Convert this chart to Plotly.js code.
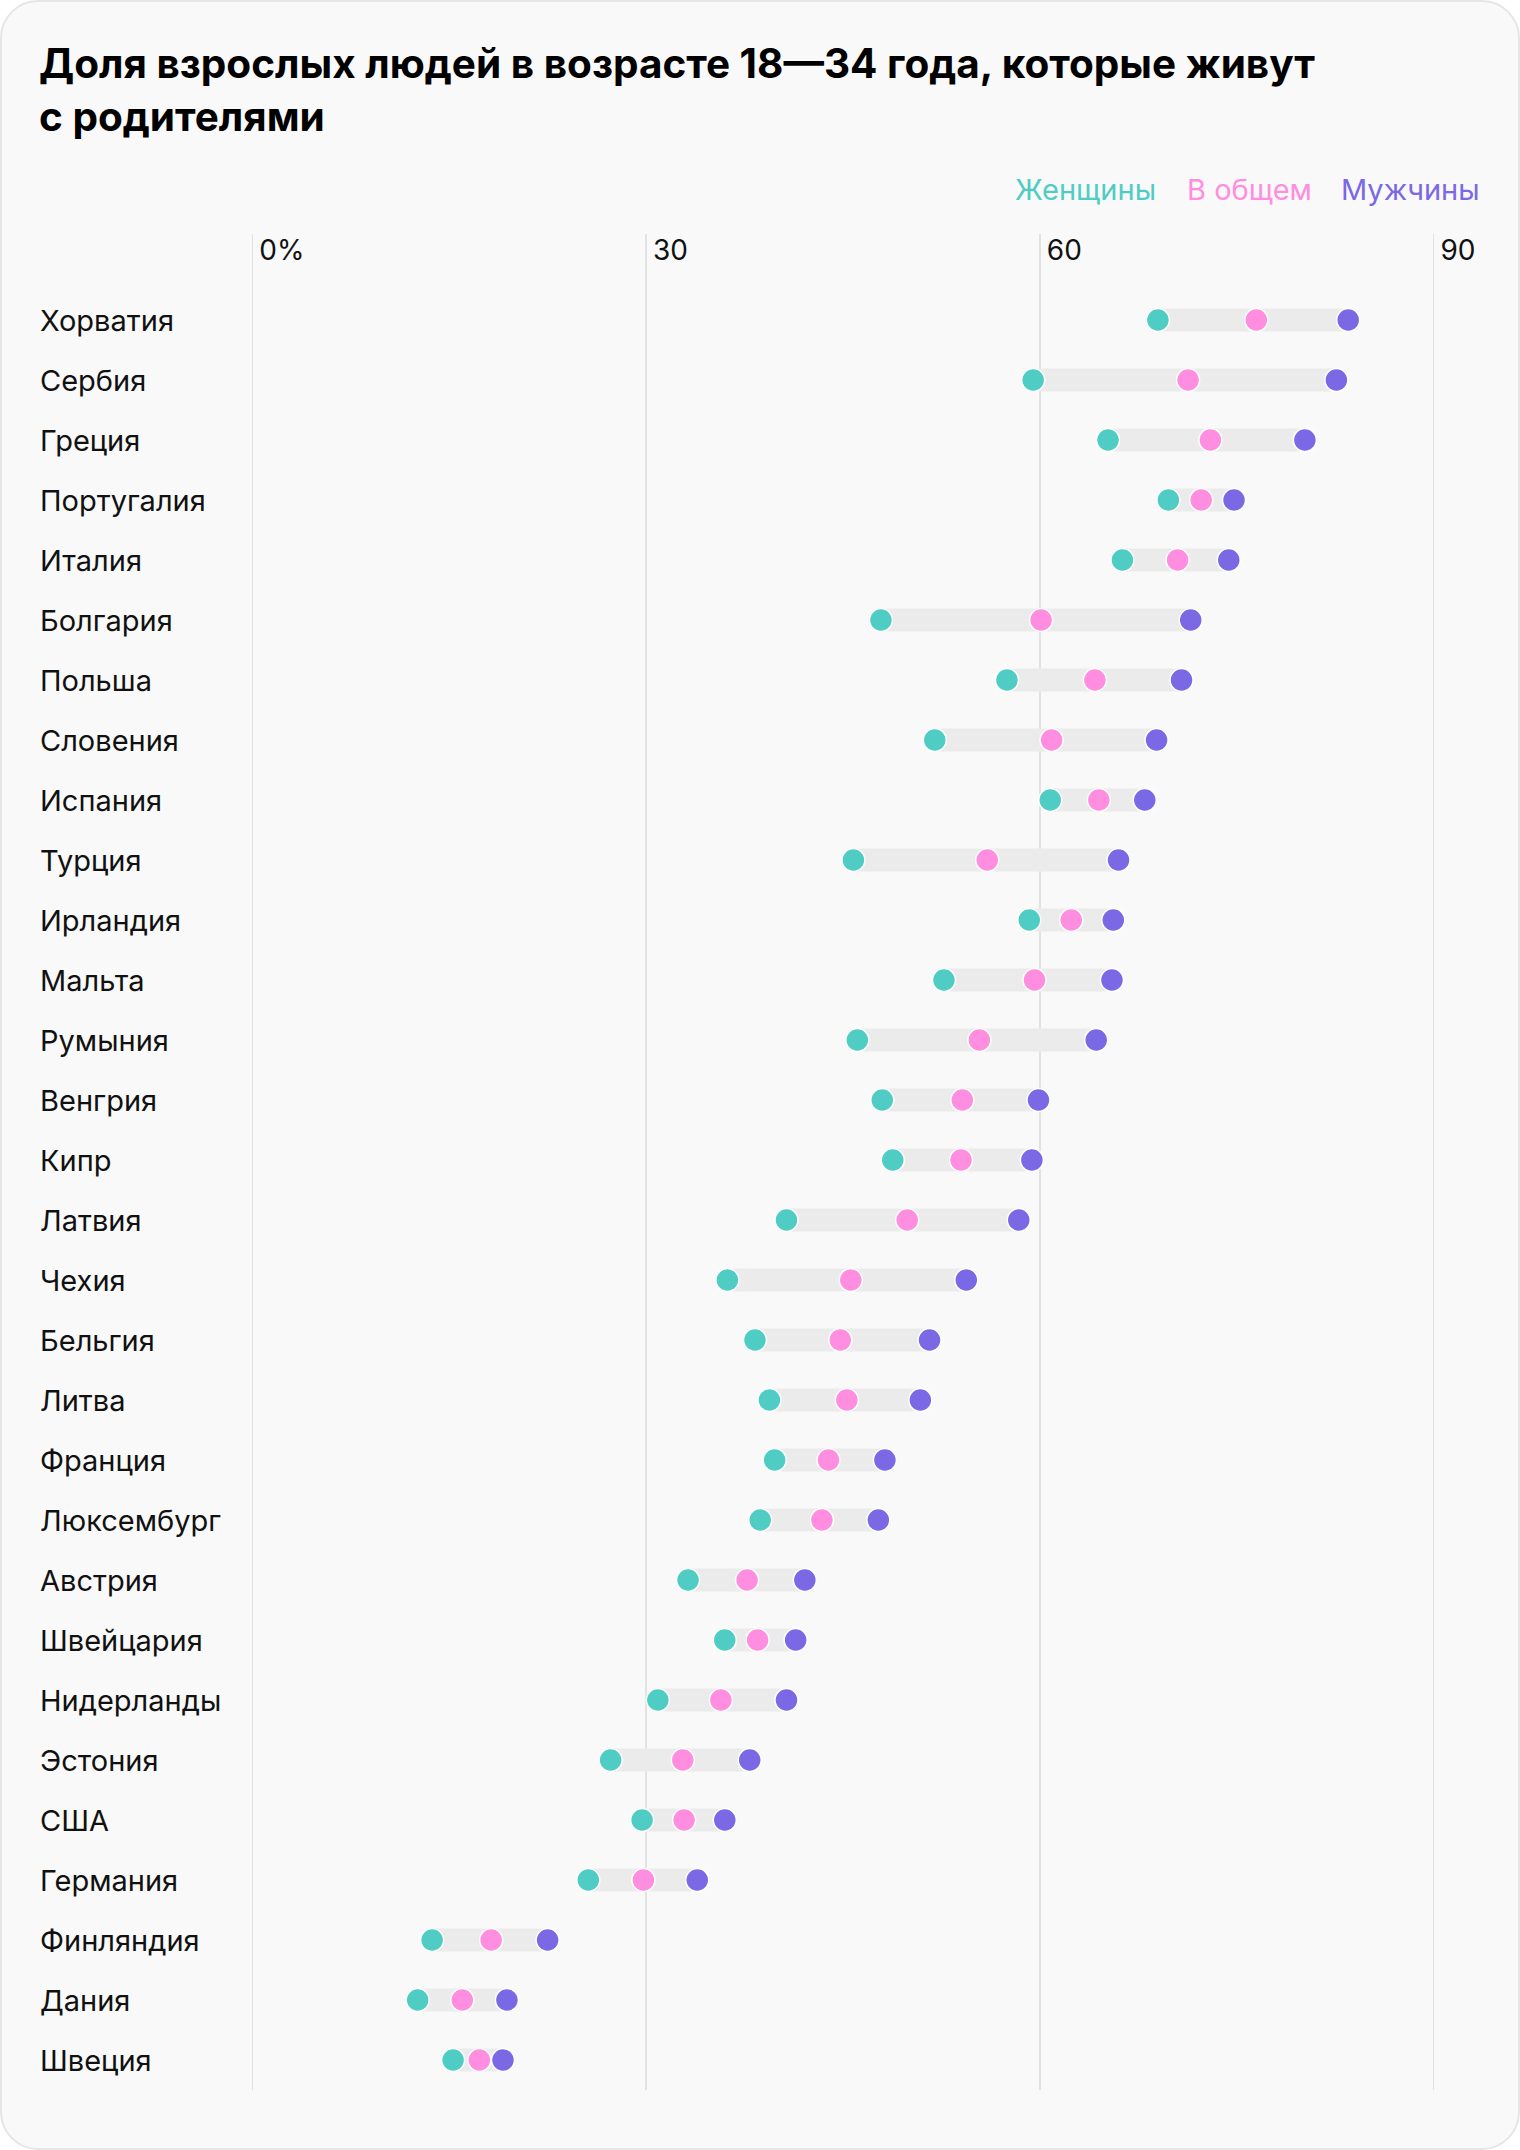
<!DOCTYPE html>
<html>
<head>
<meta charset="utf-8">
<script src="https://cdn.plot.ly/plotly-3.0.1.min.js"></script>
<style>
  html, body { margin: 0; padding: 0; background: #ffffff; }
  #card { position: absolute; left: 0; top: 0; width: 1516px; height: 2146px;
          border: 2px solid #e6e6e6; border-radius: 38px; background: #f9f9f9; }
  #chart { position: absolute; left: 0; top: 0; width: 1520px; height: 2150px; }
</style>
</head>
<body>
<div id="card"></div>
<div id="chart"></div>
<script>
const countries = ["Хорватия","Сербия","Греция","Португалия","Италия","Болгария","Польша","Словения","Испания","Турция","Ирландия","Мальта","Румыния","Венгрия","Кипр","Латвия","Чехия","Бельгия","Литва","Франция","Люксембург","Австрия","Швейцария","Нидерланды","Эстония","США","Германия","Финляндия","Дания","Швеция"];
const women = [69.0,59.5,65.2,69.8,66.3,47.9,57.5,52.0,60.8,45.8,59.2,52.7,46.1,48.0,48.8,40.7,36.2,38.3,39.4,39.8,38.7,33.2,36.0,30.9,27.3,29.7,25.6,13.7,12.6,15.3];
const total = [76.5,71.3,73.0,72.3,70.5,60.1,64.2,60.9,64.5,56.0,62.4,59.6,55.4,54.1,54.0,49.9,45.6,44.8,45.3,43.9,43.4,37.7,38.5,35.7,32.8,32.9,29.8,18.2,16.0,17.3];
const men = [83.5,82.6,80.2,74.8,74.4,71.5,70.8,68.9,68.0,66.0,65.6,65.5,64.3,59.9,59.4,58.4,54.4,51.6,50.9,48.2,47.7,42.1,41.4,40.7,37.9,36.0,33.9,22.5,19.4,19.1];
const tickVals = [0,30,60,90];
const tickText = ["0%","30","60","90"];
const seriesNames = ["Женщины","В общем","Мужчины"];
const colors = ["#4fcdc4","#ff8de0","#7b68e5"];

const FONT = "Inter, Roboto, 'Noto Sans', sans-serif";

// geometry (pixels)
const L = 250.7, PW = 1235.8, T = 234, PH = 1856;
const px2paperX = p => (p - L) / PW;

const band = {
  type: "bar", orientation: "h",
  y: countries,
  base: women,
  x: men.map((m, i) => m - women[i]),
  width: 0.38,
  marker: { color: "#ebebeb", line: { width: 0 } },
  hoverinfo: "skip", showlegend: false
};
const dots = [women, total, men].map((vals, k) => ({
  type: "scatter", mode: "markers",
  x: vals, y: countries, name: seriesNames[k],
  marker: { size: 23, color: colors[k], line: { color: "#ffffff", width: 1.5 } },
  hoverinfo: "skip", showlegend: false, cliponaxis: false
}));

const annotations = countries.map(c => ({
  xref: "paper", yref: "y", x: px2paperX(38), y: c,
  xanchor: "left", yanchor: "middle", showarrow: false,
  text: c, font: { family: FONT, size: 29, color: "#111111" }
}));
const legendRight = [1158, 1314, 1482];
seriesNames.forEach((n, k) => annotations.push({
  xref: "paper", yref: "paper", x: px2paperX(legendRight[k]), y: 1 + 44 / PH,
  xanchor: "right", yanchor: "middle", showarrow: false,
  text: n, font: { family: FONT, size: 29, color: colors[k] }
}));

const layout = {
  width: 1520, height: 2150,
  paper_bgcolor: "rgba(0,0,0,0)", plot_bgcolor: "rgba(0,0,0,0)",
  margin: { l: L, r: 1520 - L - PW, t: T, b: 2150 - T - PH },
  title: {
    text: "Доля взрослых людей в возрасте 18—34 года, которые живут<br>с родителями",
    xref: "container", yref: "container", x: 39 / 1520, xanchor: "left",
    y: 1 - 78 / 2150, yanchor: "top",
    font: { family: FONT, size: 40.5, color: "#000000", weight: 700 }
  },
  xaxis: {
    side: "top", range: [-0.1, 94],
    tickvals: tickVals, ticktext: tickText,
    ticklabelposition: "inside right", ticklabelshift: 7, ticks: "",
    showgrid: true, gridcolor: "#e2e2e2", gridwidth: 1.5,
    zeroline: false, showline: false,
    tickfont: { family: FONT, size: 28, color: "#111111" }
  },
  yaxis: {
    type: "category", categoryorder: "array", categoryarray: countries,
    range: [29.5, -(320 - T) / 60],
    showticklabels: false, showgrid: false, zeroline: false, ticks: ""
  },
  annotations: annotations,
  barmode: "overlay",
  showlegend: false
};

Plotly.newPlot("chart", [band, ...dots], layout, { staticPlot: true, displayModeBar: false });
</script>
</body>
</html>
